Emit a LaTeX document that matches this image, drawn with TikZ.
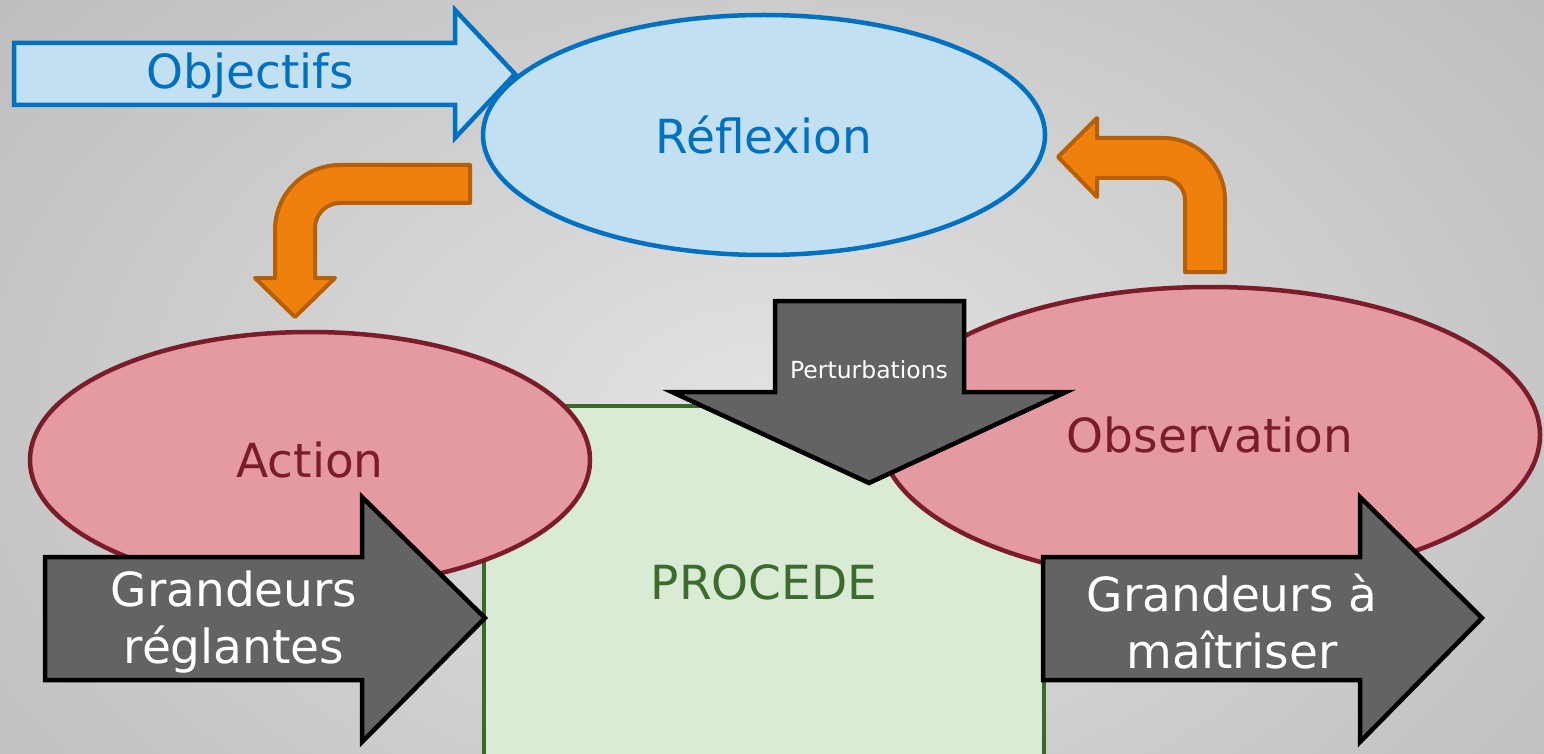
\documentclass[tikz,border=0pt]{standalone}
\usepackage{fontspec}
\setmainfont{DejaVu Sans}
\usetikzlibrary{shapes.geometric}
\definecolor{bluefill}{HTML}{C2E0F2}
\definecolor{blueline}{HTML}{0070C0}
\definecolor{pinkfill}{HTML}{E59AA2}
\definecolor{redline}{HTML}{7A1C2A}
\definecolor{greenfill}{HTML}{D9EAD5}
\definecolor{greenline}{HTML}{3A6A2A}
\definecolor{greentext}{HTML}{3C6B2D}
\definecolor{orangefill}{HTML}{F0800C}
\definecolor{orangeline}{HTML}{B56008}
\definecolor{greyfill}{HTML}{636363}
\tikzset{
  bigtext/.style={font=\fontsize{47}{57}\selectfont},
  blueshape/.style={fill=bluefill, draw=blueline, line width=4.5pt},
  pinkshape/.style={ellipse, inner sep=0pt, fill=pinkfill, draw=redline, line width=4.5pt,
                    text=redline, bigtext},
  bendarrow/.style={fill=orangefill, draw=orangeline, line width=4pt, line join=round},
  greyarrow/.style={fill=greyfill, draw=black, line width=4.5pt, line join=miter},
  whitelabel/.style={text=white, bigtext, align=center, inner sep=0pt},
}
\begin{document}
\begin{tikzpicture}[x=1pt, y=-1pt]
\useasboundingbox (0,0) rectangle (1544,754);
% grey backdrop, lighter towards the middle
\begin{scope}
  \clip (0,0) rectangle (1544,754);
  \fill[black!26] (0,0) rectangle (1544,754);
  \shade[inner color=black!11, outer color=black!26] (770,420) ellipse (1020 and 680);
\end{scope}

% Objectifs block arrow
\draw[blueshape, line join=miter] (14,43) -- (455,43) -- (455,10) -- (515,74) -- (455,138)
  -- (455,105) -- (14,105) -- cycle;
\node[text=blueline, bigtext, inner sep=0pt] (objectifs) at (250,76) {Objectifs};

% Reflexion
\node[ellipse, inner sep=0pt, blueshape, minimum width=562pt, minimum height=240pt,
      text=blueline, bigtext] (reflexion) at (764,135) {Réflexion};

% bent arrow from Reflexion down to Action
\draw[bendarrow] (470,165) -- (340,165) .. controls (304.1,165) and (275,194.1) .. (275,230)
  -- (275,278) -- (255,278) -- (295,317) -- (335,278) -- (315,278) -- (315,228)
  .. controls (315,214.2) and (326.2,203) .. (340,203) -- (470,203) -- cycle;

% bent arrow from Observation up to Reflexion
\draw[bendarrow] (1058,157) -- (1097,118) -- (1097,138) -- (1163,138)
  .. controls (1197.2,138) and (1225,165.8) .. (1225,200) -- (1225,272) -- (1185,272)
  -- (1185,200) .. controls (1185,187.9) and (1175.1,178) .. (1163,178)
  -- (1097,178) -- (1097,197) -- cycle;

% process box
\draw[fill=greenfill, draw=greenline, line width=3.5pt] (484,406) rectangle (1044,756);
\node[text=greentext, bigtext, inner sep=0pt] (procede) at (764,582) {PROCEDE};

% Action and Observation
\node[pinkshape, minimum width=560pt, minimum height=256pt] (action) at (310,460) {Action};
\node[pinkshape, minimum width=660pt, minimum height=296pt] (observation) at (1210,435) {Observation};

% disturbances
\draw[greyarrow] (775,301) -- (964,301) -- (964,392) -- (1066,392) -- (869,483)
  -- (672,392) -- (775,392) -- cycle;
\node[text=white, font=\fontsize{23.5}{28}\selectfont, inner sep=0pt] (perturb) at (869,370) {Perturbations};

% input and output quantities
\draw[greyarrow] (45,557) -- (362,557) -- (362,497) -- (485,618) -- (362,742) -- (362,680)
  -- (45,680) -- cycle;
\node[whitelabel] (reglantes) at (234,622) {Grandeurs\\réglantes};

\draw[greyarrow] (1043,557) -- (1360,557) -- (1360,497) -- (1482,618) -- (1360,742)
  -- (1360,680) -- (1043,680) -- cycle;
\node[whitelabel] (maitriser) at (1232,622) {Grandeurs à\\maîtriser};
\end{tikzpicture}
\end{document}
